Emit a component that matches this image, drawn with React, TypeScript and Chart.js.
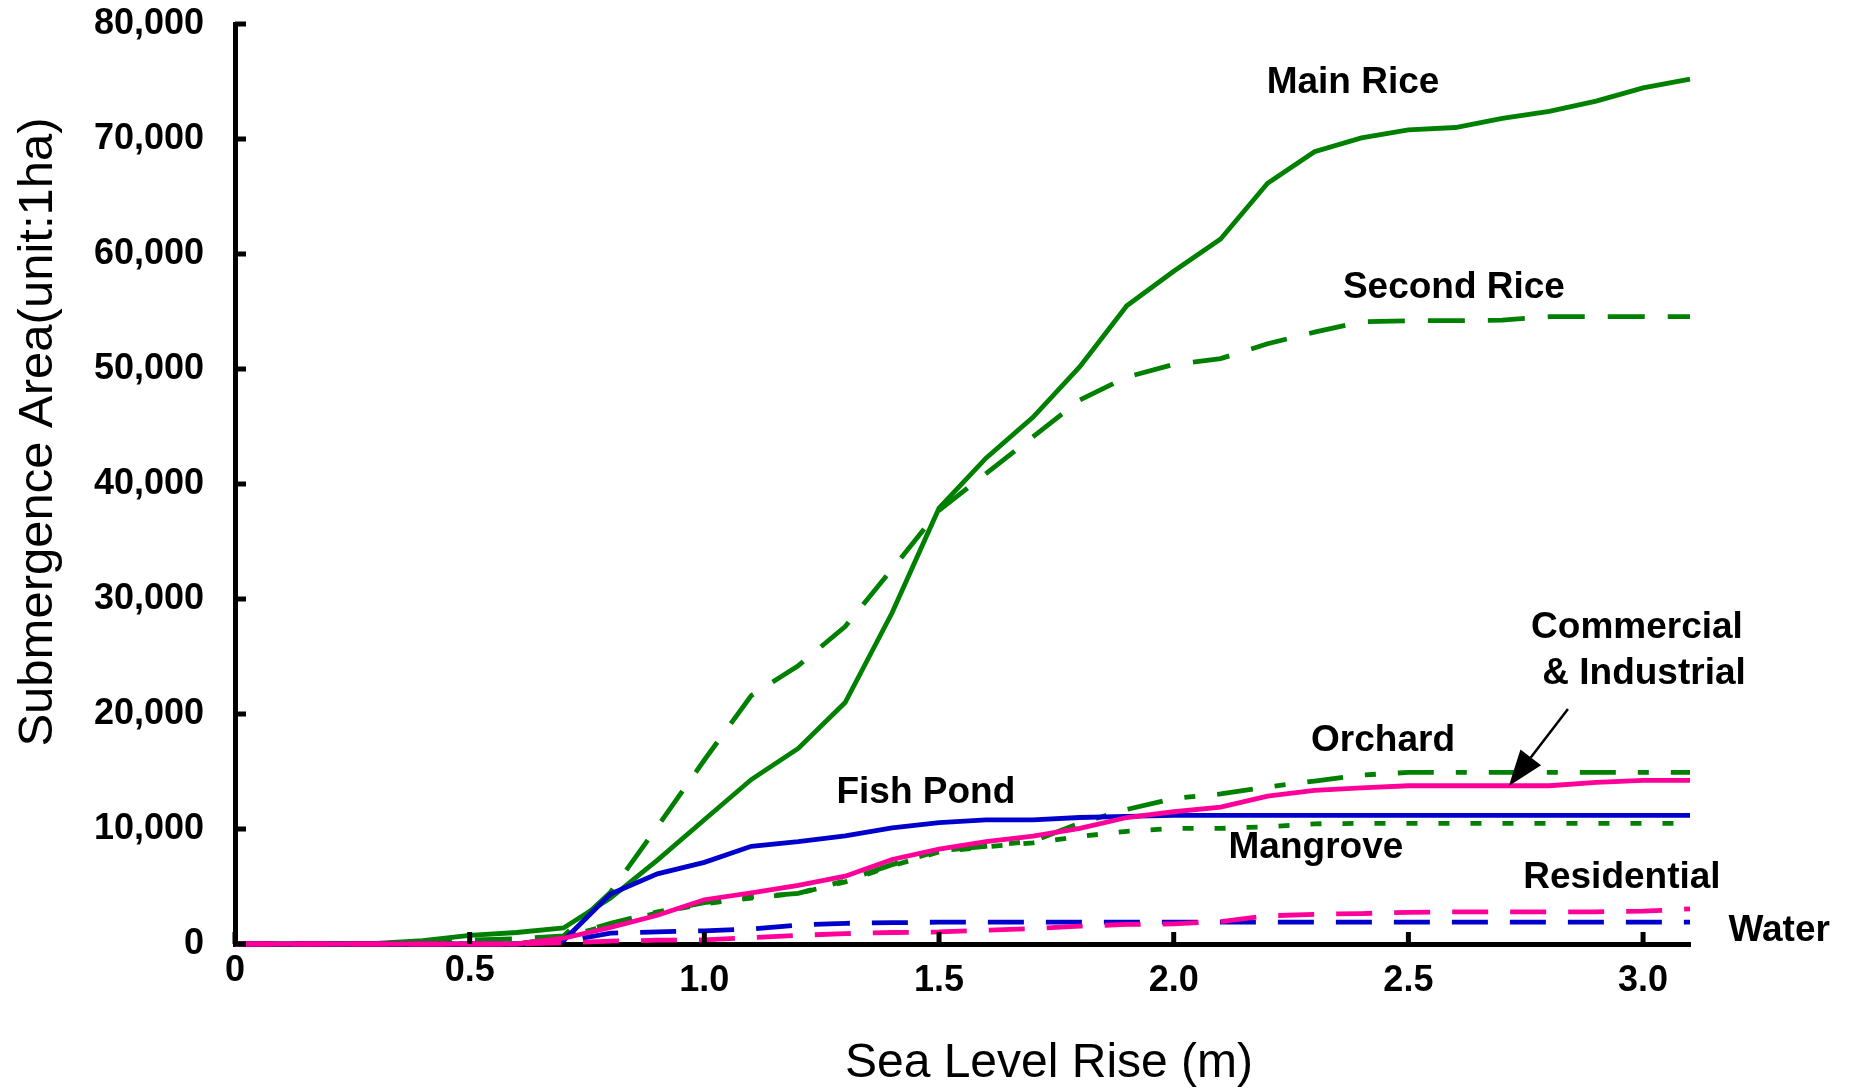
import React, { useEffect, useRef } from 'react';
import { Chart, registerables } from 'chart.js';

Chart.register(...registerables);

// Sea level rise (m)
const seaLevel = [0, 0.1, 0.2, 0.3, 0.4, 0.5, 0.6, 0.7, 0.8, 0.9, 1.0, 1.1, 1.2, 1.3, 1.4, 1.5, 1.6, 1.7, 1.8, 1.9, 2.0, 2.1, 2.2, 2.3, 2.4, 2.5, 2.6, 2.7, 2.8, 2.9, 3.0, 3.1];

// Submergence area (ha)
const mainRice = [0, 0, 0, 50, 300, 750, 1000, 1400, 4000, 7300, 10800, 14300, 17000, 21000, 28800, 37900, 42250, 45800, 50200, 55500, 58500, 61300, 66150, 68900, 70100, 70800, 71000, 71800, 72400, 73300, 74450, 75200];
const secondRice = [0, 0, 0, 0, 100, 350, 450, 700, 4500, 10200, 16000, 21600, 24200, 27600, 32600, 37700, 40900, 44100, 47300, 49300, 50400, 50900, 52200, 53200, 54100, 54200, 54200, 54250, 54550, 54550, 54550, 54550];
const fishPond = [0, 0, 0, 0, 0, 0, 0, 300, 4350, 6100, 7100, 8500, 8900, 9400, 10100, 10550, 10800, 10800, 11000, 11100, 11180, 11180, 11180, 11180, 11180, 11180, 11180, 11180, 11180, 11180, 11180, 11180];
const commercial = [0, 0, 0, 0, 0, 0, 0, 500, 1450, 2500, 3850, 4450, 5100, 5900, 7350, 8250, 8900, 9380, 10050, 11000, 11500, 11900, 12850, 13350, 13580, 13760, 13760, 13760, 13760, 14050, 14230, 14230];
const orchard = [0, 0, 0, 0, 0, 0, 0, 600, 1800, 2800, 3600, 4100, 4400, 5500, 6900, 8100, 8500, 8950, 10500, 11700, 12650, 13050, 13650, 14170, 14690, 14920, 14920, 14920, 14920, 14920, 14920, 14920];
const mangrove = [0, 0, 0, 0, 0, 0, 0, 550, 1700, 2700, 3500, 4000, 4400, 5400, 6800, 8000, 8450, 8800, 9350, 9800, 10050, 10050, 10200, 10450, 10490, 10490, 10490, 10490, 10490, 10490, 10490, 10490];
const water = [0, 0, 0, 0, 0, 0, 0, 200, 950, 1050, 1150, 1300, 1650, 1800, 1850, 1900, 1900, 1900, 1900, 1900, 1900, 1900, 1900, 1900, 1900, 1900, 1900, 1900, 1900, 1900, 1900, 1900];
const residential = [0, 0, 0, 0, 0, 0, 0, 100, 250, 330, 350, 560, 750, 900, 1000, 1050, 1200, 1330, 1550, 1700, 1750, 1950, 2450, 2580, 2650, 2750, 2800, 2800, 2800, 2800, 2850, 3050];

// Axis ticks
const xTickStep = 0.5;
const xMax = 3.1;
const yTickStep = 10000;
const yMax = 80000;

// In-plot labels (data coordinates)
const labelTexts = ['Main Rice', 'Second Rice', 'Commercial', '& Industrial', 'Orchard', 'Fish Pond', 'Mangrove', 'Residential', 'Water'];
const labelX = [2.382, 2.597, 2.987, 3.002, 2.446, 1.472, 2.303, 2.955, 3.29];
const labelY = [74870, 57040, 27480, 23480, 17650, 13130, 8350, 5740, 1130];

// Arrow pointing to Commercial & Industrial (data coordinates)
const arrowFrom = [2.84, 20430];
const arrowTo = [2.714, 13740];

const FONT = '"Liberation Sans", Arial, Helvetica, sans-serif';
const GREEN = '#008000';
const BLUE = '#0000CC';
const PINK = '#FF0099';

export default function App() {
  const ref = useRef<HTMLCanvasElement>(null);

  useEffect(() => {
    const canvas = ref.current;
    if (!canvas) return;
    const pts = (vals: number[]) => seaLevel.map((x, i) => ({ x, y: vals[i] }));
    const ds = (label: string, vals: number[], color: string, dash: number[]) => ({
      label,
      data: pts(vals),
      borderColor: color,
      backgroundColor: color,
      borderWidth: 4.8,
      borderDash: dash,
      borderCapStyle: 'butt' as const,
      borderJoinStyle: 'miter' as const,
      pointRadius: 0,
      pointHoverRadius: 0,
      tension: 0,
      fill: false,
      clip: 20,
    });

    const decor = {
      id: 'decor',
      afterDraw(chart: any) {
        const { ctx, chartArea, scales } = chart;
        const x = scales.x;
        const y = scales.y;
        ctx.save();
        // inward tick marks
        ctx.strokeStyle = '#000';
        ctx.lineWidth = 5;
        ctx.lineCap = 'butt';
        x.ticks.forEach((t: any) => {
          const px = x.getPixelForValue(t.value);
          ctx.beginPath();
          ctx.moveTo(px, chartArea.bottom);
          ctx.lineTo(px, chartArea.bottom - 12);
          ctx.stroke();
        });
        y.ticks.forEach((t: any) => {
          const py = y.getPixelForValue(t.value);
          ctx.beginPath();
          ctx.moveTo(chartArea.left, py);
          ctx.lineTo(chartArea.left + 11, py);
          ctx.stroke();
        });

        // labels
        ctx.fillStyle = '#000';
        ctx.font = `bold 37px ${FONT}`;
        ctx.textAlign = 'center';
        ctx.textBaseline = 'middle';
        labelTexts.forEach((s, i) => {
          ctx.fillText(s, x.getPixelForValue(labelX[i]), y.getPixelForValue(labelY[i]));
        });

        // arrow
        const x0 = x.getPixelForValue(arrowFrom[0]);
        const y0 = y.getPixelForValue(arrowFrom[1]);
        const x1 = x.getPixelForValue(arrowTo[0]);
        const y1 = y.getPixelForValue(arrowTo[1]);
        const ang = Math.atan2(y1 - y0, x1 - x0);
        const headLen = 36;
        const headHalf = 13;
        const bx = x1 - headLen * Math.cos(ang);
        const by = y1 - headLen * Math.sin(ang);
        ctx.lineWidth = 2.5;
        ctx.beginPath();
        ctx.moveTo(x0, y0);
        ctx.lineTo(bx, by);
        ctx.stroke();
        ctx.beginPath();
        ctx.moveTo(x1, y1);
        ctx.lineTo(bx + headHalf * Math.sin(ang), by - headHalf * Math.cos(ang));
        ctx.lineTo(bx - headHalf * Math.sin(ang), by + headHalf * Math.cos(ang));
        ctx.closePath();
        ctx.fill();

        // axis titles
        ctx.font = `48px ${FONT}`;
        ctx.fillText('Sea Level Rise (m)', 1049, 1064);
        ctx.translate(38, 432);
        ctx.rotate(-Math.PI / 2);
        ctx.font = `49px ${FONT}`;
        ctx.fillText('Submergence Area(unit:1ha)', 0, 0);
        ctx.restore();
      },
    };

    const chart = new Chart(canvas, {
      type: 'line',
      data: {
        datasets: [
          ds('Commercial & Industrial', commercial, PINK, []),
          ds('Residential', residential, PINK, [36, 22]),
          ds('Fish Pond', fishPond, BLUE, []),
          ds('Water', water, BLUE, [36, 22]),
          ds('Main Rice', mainRice, GREEN, []),
          ds('Second Rice', secondRice, GREEN, [37, 23]),
          ds('Orchard', orchard, GREEN, [36, 22, 11, 22]),
          ds('Mangrove', mangrove, GREEN, [11, 21]),
        ],
      },
      options: {
        responsive: false,
        animation: false,
        devicePixelRatio: 1,
        layout: { padding: { left: 0, right: 160, top: 24, bottom: 0 } },
        plugins: {
          legend: { display: false },
          tooltip: { enabled: false },
          title: { display: false },
        },
        scales: {
          x: {
            type: 'linear',
            min: 0,
            max: xMax,
            grid: { display: false, drawTicks: false },
            border: { display: true, color: '#000', width: 5 },
            ticks: {
              stepSize: xTickStep,
              includeBounds: false,
              autoSkip: false,
              maxRotation: 0,
              padding: 5,
              color: '#000',
              font: (c: any) => ({
                family: FONT,
                size: 36,
                weight: 'bold',
                lineHeight: c.tick && c.tick.value > 0.75 ? 1.78 : 1.2,
              }),
              callback: (v: any) => (Number(v) === 0 ? '0' : Number(v).toFixed(1)),
            },
            afterFit: (s: any) => {
              s.height = 147;
              s.paddingLeft = 0;
              s.paddingRight = 0;
            },
          },
          y: {
            type: 'linear',
            min: 0,
            max: yMax,
            grid: { display: false, drawTicks: false },
            border: { display: true, color: '#000', width: 5 },
            ticks: {
              stepSize: yTickStep,
              padding: 31,
              color: '#000',
              font: { family: FONT, size: 36, weight: 'bold' },
              callback: (v: any) => Number(v).toLocaleString('en-US'),
            },
            afterFit: (s: any) => {
              s.width = 235;
              s.paddingTop = 0;
              s.paddingBottom = 0;
            },
          },
        },
      },
      plugins: [decor],
    } as any);

    return () => chart.destroy();
  }, []);

  return (
    <div style={{ position: 'absolute', left: 0, top: 0, width: 1850, height: 1091, background: '#fff' }}>
      <canvas ref={ref} width={1850} height={1091} style={{ display: 'block', width: 1850, height: 1091 }} />
    </div>
  );
}
